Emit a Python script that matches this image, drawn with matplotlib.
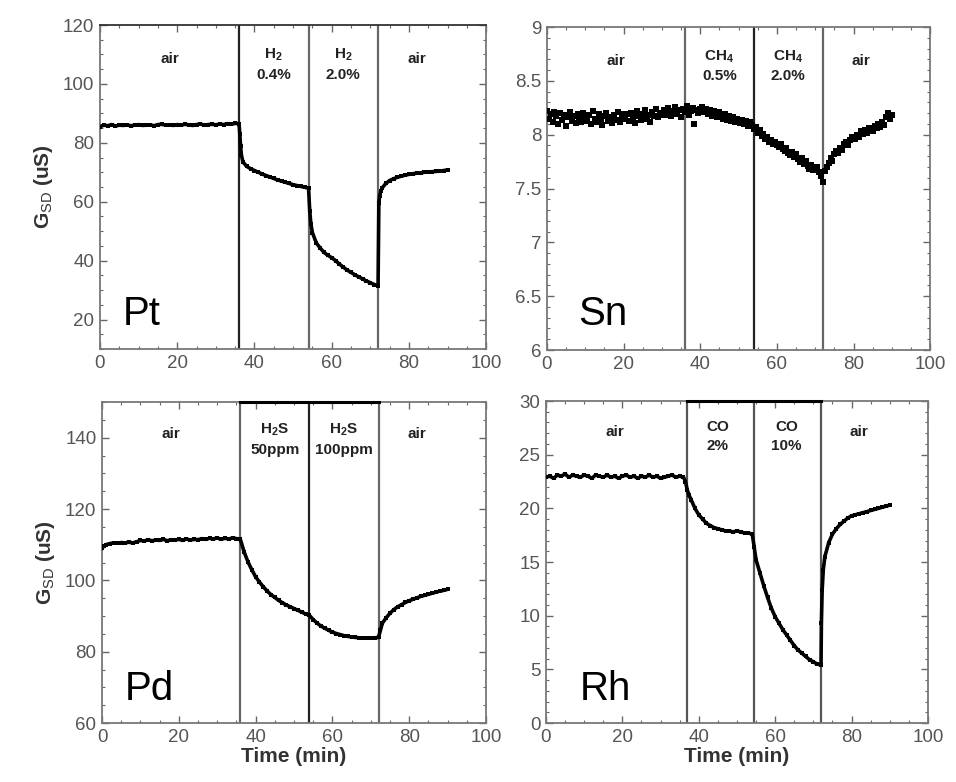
import numpy as np
import matplotlib
matplotlib.use("Agg")
import matplotlib.pyplot as plt
from matplotlib.ticker import MultipleLocator, FuncFormatter

plt.rcParams['font.family'] = ['Liberation Sans', 'DejaVu Sans']
plt.rcParams['mathtext.fontset'] = 'custom'
plt.rcParams['mathtext.rm'] = 'Liberation Sans'
plt.rcParams['mathtext.bf'] = 'Liberation Sans:bold'
plt.rcParams['mathtext.default'] = 'regular'

# ---------------- data ----------------
pt_t = [0, 1, 2, 3, 4, 5, 6, 7, 8, 9, 10, 11, 12, 13, 14, 15, 16, 17, 18, 19, 20, 21, 22, 23, 24, 25, 26, 27, 28, 29,
        30, 31, 32, 33, 34, 35, 36, 36.2, 36.4, 36.6, 37, 38, 39, 40, 41, 42, 43, 44, 45, 46, 47, 48, 49, 50, 51, 52,
        53, 54, 54.3, 54.6, 55, 56, 57, 58, 59, 60, 61, 62, 63, 64, 65, 66, 67, 68, 69, 70, 71, 72, 72.2, 72.4, 72.7,
        73, 74, 75, 76, 77, 78, 79, 80, 81, 82, 83, 84, 85, 86, 87, 88, 89, 90]
pt_g = [85.5, 86.0, 85.8, 86.2, 85.7, 86.0, 85.9, 86.1, 85.8, 86.0, 86.2, 85.9, 86.0, 86.1, 85.8, 86.2, 86.3, 86.0,
        86.1, 85.9, 86.2, 86.0, 86.3, 86.1, 85.9, 86.2, 86.4, 86.0, 86.2, 86.3, 86.1, 86.4, 86.2, 86.5, 86.3, 86.6,
        86.5, 83.0, 79.0, 76.0, 73.5, 72.0, 71.2, 70.6, 70.0, 69.4, 68.9, 68.4, 67.9, 67.4, 67.0, 66.6, 66.2, 65.8,
        65.5, 65.2, 64.9, 64.6, 57.0, 52.5, 49.5, 46.0, 44.3, 42.8, 41.8, 41.0, 40.0, 38.8, 37.8, 36.8, 36.0, 35.2,
        34.5, 33.8, 33.1, 32.5, 31.9, 31.4, 59.5, 62.0, 63.5, 64.6, 66.2, 67.2, 67.8, 68.3, 68.7, 69.0, 69.3, 69.5,
        69.7, 69.8, 70.0, 70.1, 70.2, 70.3, 70.4, 70.6, 70.8]

sn_g = [8.22, 8.15, 8.19, 8.12, 8.21, 8.17, 8.10, 8.20, 8.14, 8.18, 8.08, 8.16, 8.21, 8.13, 8.17, 8.11, 8.19, 8.15,
        8.12, 8.20, 8.16,
        8.13, 8.18, 8.10, 8.22, 8.15, 8.12, 8.19, 8.14, 8.09, 8.17, 8.20, 8.13, 8.16, 8.11, 8.18, 8.14, 8.21, 8.12,
        8.17, 8.19,
        8.15, 8.19, 8.13, 8.20, 8.16, 8.11, 8.22, 8.17, 8.14, 8.19, 8.23, 8.15, 8.18, 8.12, 8.21, 8.17, 8.24, 8.16,
        8.20, 8.18,
        8.23, 8.18, 8.25, 8.20, 8.17, 8.22, 8.26, 8.19, 8.23, 8.16, 8.24, 8.21, 8.27, 8.18, 8.22, 8.25, 8.10, 8.23,
        8.20, 8.24,
        8.26, 8.21, 8.24, 8.19, 8.23, 8.17, 8.22, 8.20, 8.16, 8.21, 8.18, 8.15, 8.19, 8.14, 8.17, 8.13, 8.16, 8.12,
        8.15, 8.13,
        8.11, 8.14, 8.10, 8.13, 8.08, 8.12, 8.09, 8.05, 8.07, 8.02, 8.04, 7.99, 8.01, 7.96, 7.98, 7.93, 7.95, 7.91,
        7.93, 7.90,
        7.89, 7.91, 7.87, 7.85, 7.88, 7.83, 7.81, 7.84, 7.79, 7.82, 7.77, 7.75, 7.78, 7.73, 7.76, 7.71, 7.68, 7.72,
        7.67, 7.69,
        7.70, 7.65, 7.62, 7.56, 7.66, 7.70, 7.74, 7.78, 7.76, 7.82, 7.85, 7.83, 7.88, 7.86, 7.91, 7.93, 7.90, 7.95,
        7.98, 7.97,
        7.96, 8.00, 7.98, 8.03, 8.01, 8.04, 8.02, 8.06, 8.05, 8.03, 8.08, 8.06, 8.10, 8.07, 8.12, 8.09, 8.16, 8.20,
        8.15, 8.18]
sn_t = np.linspace(0, 90, len(sn_g))

pd_t = [0, 0.5, 1, 2, 3, 4, 5, 6, 7, 8, 9, 10, 11, 12, 13, 14, 15, 16, 17, 18, 19, 20, 21, 22, 23, 24, 25, 26, 27,
        28, 29, 30, 31, 32, 33, 34, 35, 36, 37, 38, 39, 40, 41, 42, 43, 44, 45, 46, 47, 48, 49, 50, 51, 52, 53, 54,
        55, 56, 57, 58, 59, 60, 61, 62, 63, 64, 65, 66, 67, 68, 69, 70, 71, 72, 72.5, 73, 74, 75, 76, 77, 78, 79, 80,
        81, 82, 83, 84, 85, 86, 87, 88, 89, 90]
pd_g = [109.0, 109.6, 110.0, 110.3, 110.5, 110.4, 110.6, 110.5, 110.7, 110.5, 110.8, 111.2, 111.0, 111.4, 111.1,
        111.3, 111.2, 111.5, 111.1, 111.4, 111.3, 111.5, 111.2, 111.6, 111.3, 111.5, 111.4, 111.7, 111.5, 111.8,
        111.6, 111.9, 111.5, 111.8, 111.6, 111.9, 111.7, 111.6, 108.0, 105.2, 103.0, 101.0, 99.5, 98.2, 97.0, 96.0,
        95.2, 94.4, 93.7, 93.1, 92.6, 92.1, 91.6, 91.1, 90.6, 90.2, 89.0, 88.0, 87.2, 86.6, 86.0, 85.5, 85.1, 84.8,
        84.5, 84.3, 84.1, 84.0, 83.9, 83.8, 83.8, 83.8, 83.9, 84.0, 86.0, 88.0, 89.5, 90.8, 91.8, 92.6, 93.2, 93.8,
        94.3, 94.7, 95.1, 95.5, 95.8, 96.1, 96.4, 96.7, 97.0, 97.2, 97.5]

rh_t = [0, 1, 2, 3, 4, 5, 6, 7, 8, 9, 10, 11, 12, 13, 14, 15, 16, 17, 18, 19, 20, 21, 22, 23, 24, 25, 26, 27, 28, 29,
        30, 31, 32, 33, 34, 35, 36, 36.5, 37, 37.5, 38, 39, 40, 41, 42, 43, 44, 45, 46, 47, 48, 49, 50, 51, 52, 53,
        54, 54.5, 55, 56, 57, 58, 59, 60, 61, 62, 63, 64, 65, 66, 67, 68, 69, 70, 71, 72, 72.1, 72.3, 72.6, 73, 74,
        75, 76, 77, 78, 79, 80, 81, 82, 83, 84, 85, 86, 87, 88, 89, 90]
rh_g = [22.9, 23.0, 22.8, 23.1, 23.0, 23.2, 22.9, 23.1, 23.0, 22.9, 23.1, 23.0, 22.8, 23.1, 23.0, 22.9, 23.1, 22.9,
        23.0, 22.8, 23.0, 23.1, 22.9, 23.0, 22.8, 23.0, 22.9, 23.1, 22.9, 23.0, 22.8, 22.9, 23.0, 23.1, 22.9, 23.0,
        22.9, 22.5, 21.7, 21.2, 20.8, 20.0, 19.4, 19.0, 18.6, 18.4, 18.2, 18.1, 18.0, 17.9, 17.9, 17.8, 17.9, 17.8,
        17.7, 17.7, 17.6, 16.4, 15.2, 14.0, 12.8, 11.7, 10.7, 9.9, 9.3, 8.7, 8.2, 7.7, 7.2, 6.8, 6.5, 6.2, 5.9, 5.7,
        5.5, 5.4, 9.3, 12.4, 14.3, 15.5, 16.8, 17.6, 18.1, 18.5, 18.8, 19.1, 19.3, 19.4, 19.5, 19.6, 19.7, 19.8,
        19.9, 20.0, 20.1, 20.2, 20.3]

boundaries = [36, 54, 72]
rh_boundaries = [37, 54.5, 72]
air_x = [18, 82]
gas_x = [45, 63]

panels = [
    dict(name="Pt", t=pt_t, g=pt_g, ylim=(10, 120), ymaj=20, ymin=5, bnd=boundaries,
         gas=[r"$\mathbf{H_2}$" + "\n0.4%", r"$\mathbf{H_2}$" + "\n2.0%"],
         vcol=["#222222", "#666666", "#666666"], pos=[0.1046, 0.5537, 0.4040, 0.4143],
         lab_xy=(0.06, 0.074), text_y=0.88, topbar=False, scatter=False),
    dict(name="Sn", t=sn_t, g=sn_g, ylim=(6, 9), ymaj=0.5, ymin=0.1, bnd=boundaries,
         gas=[r"$\mathbf{CH_4}$" + "\n0.5%", r"$\mathbf{CH_4}$" + "\n2.0%"],
         vcol=["#666666", "#222222", "#666666"], pos=[0.5720, 0.5524, 0.4010, 0.4130],
         lab_xy=(0.083, 0.077), text_y=0.88, topbar=False, scatter=True),
    dict(name="Pd", t=pd_t, g=pd_g, ylim=(60, 150), ymaj=20, ymin=5, bnd=boundaries,
         gas=[r"$\mathbf{H_2S}$" + "\n50ppm", r"$\mathbf{H_2S}$" + "\n100ppm"],
         vcol=["#666666", "#222222", "#666666"], pos=[0.1067, 0.0754, 0.4017, 0.4105],
         lab_xy=(0.06, 0.072), text_y=0.885, topbar=True, scatter=False),
    dict(name="Rh", t=rh_t, g=rh_g, ylim=(0, 30), ymaj=5, ymin=1, bnd=rh_boundaries,
         gas=["CO\n2%", "CO\n10%"],
         vcol=["#555555", "#555555", "#555555"], pos=[0.5711, 0.0754, 0.3996, 0.4118],
         lab_xy=(0.089, 0.072), text_y=0.89, topbar=True, scatter=False),
]

fmt = FuncFormatter(lambda v, pos: f"{v:g}")

fig = plt.figure(figsize=(9.56, 7.82), dpi=100)

for i, p in enumerate(panels):
    ax = fig.add_axes(p["pos"])
    ax.set_xlim(0, 100)
    ax.set_ylim(*p["ylim"])
    for b, c in zip(p["bnd"], p["vcol"]):
        ax.axvline(b, color=c, lw=1.6, zorder=1)
    if p["scatter"]:
        ax.plot(p["t"], p["g"], 's', color='black', ms=3.8, mew=0, zorder=3)
    else:
        ax.plot(p["t"], p["g"], '-', color='black', lw=2.6, zorder=3)
        ax.plot(p["t"], p["g"], 's', color='black', ms=2.8, mew=0, zorder=3)
    if p["topbar"]:
        ax.plot([p["bnd"][0], p["bnd"][2]], [p["ylim"][1]] * 2, color='black', lw=2.2,
                clip_on=False, zorder=5)
    ax.xaxis.set_major_locator(MultipleLocator(20))
    ax.xaxis.set_minor_locator(MultipleLocator(5))
    ax.yaxis.set_major_locator(MultipleLocator(p["ymaj"]))
    ax.yaxis.set_minor_locator(MultipleLocator(p["ymin"]))
    ax.xaxis.set_major_formatter(fmt)
    ax.yaxis.set_major_formatter(fmt)
    ax.tick_params(which='both', direction='in', top=True, right=True, colors='#666666',
                   labelcolor='#555555')
    ax.tick_params(which='major', length=5, width=1.0, labelsize=13.5, pad=4)
    ax.tick_params(which='minor', length=2.5, width=0.8)
    for s in ax.spines.values():
        s.set_color('#777777')
        s.set_linewidth(1.3)
    if p["name"] == "Pt":
        ax.spines['top'].set_color('#333333')
    ty = p["text_y"]
    for x in air_x:
        ax.text(x, ty + 0.015, "air", transform=ax.get_xaxis_transform(), ha='center', va='center',
                fontsize=11, fontweight='bold', color='#222222')
    for x, s in zip(gas_x, p["gas"]):
        ax.text(x, ty, s, transform=ax.get_xaxis_transform(), ha='center', va='center',
                fontsize=11, fontweight='bold', color='#222222', linespacing=1.45)
    ax.text(p["lab_xy"][0], p["lab_xy"][1], p["name"], transform=ax.transAxes, ha='left',
            va='baseline', fontsize=29, color='black')
    if i in (0, 2):
        ax.set_ylabel(r"G$_{\mathrm{SD}}$ (uS)", fontsize=15, fontweight='bold', color='#333333',
                      labelpad=6)
    if i in (2, 3):
        ax.set_xlabel("Time (min)", fontsize=15, fontweight='bold', color='#333333', labelpad=1)

fig.savefig("out.png", dpi=100)
